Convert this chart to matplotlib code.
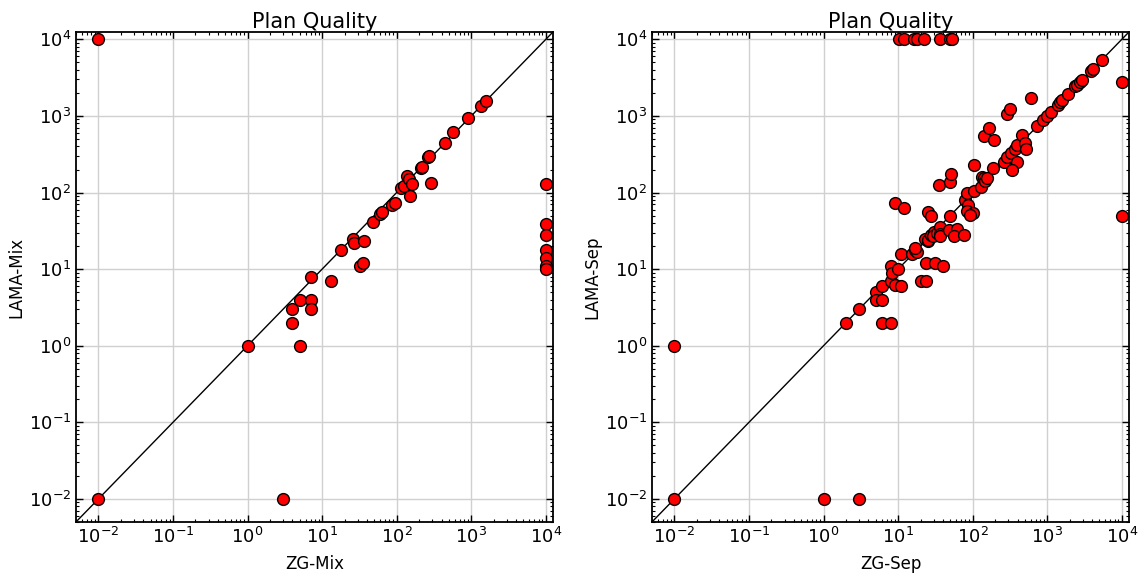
import numpy as np
import matplotlib
matplotlib.use("Agg")
import matplotlib.pyplot as plt

# ZG vs LAMA plan quality, mixed setting
mix_zg = [0.01, 0.01, 1, 3, 4, 4, 5, 5, 7, 7, 7, 13, 18, 26, 27, 37, 32, 35,
          48, 60, 63, 86, 95, 113, 125, 136, 146, 160, 150, 210, 218, 265, 275,
          285, 445, 570, 900, 1340, 1580,
          1e4, 1e4, 1e4, 1e4, 1e4, 1e4, 1e4]
mix_lama = [1e4, 0.01, 1, 0.01, 2, 3, 4, 1, 4, 3, 8, 7, 18, 25, 22, 23, 11, 12,
            41, 53, 55, 69, 73, 114, 123, 167, 151, 131, 89, 208, 216, 290, 297,
            133, 450, 620, 930, 1350, 1580,
            130, 39, 28, 18, 14, 11, 10]

# ZG vs LAMA plan quality, separate setting
sep_zg = [10.3, 12, 16.5, 18, 22.5, 37, 50, 53,
          1e4, 1e4,
          0.01, 0.01, 1, 3,
          2, 3, 5, 5, 6, 6, 6, 8, 8, 8, 8.4, 10, 9, 11, 11, 15.5, 17, 18, 17,
          20, 24, 24, 31, 40, 23, 25, 25, 28, 30, 29, 33, 37, 37, 37, 48, 61,
          57, 76, 9, 12, 25, 28, 49, 35, 49, 51, 80, 86, 83, 102, 92, 85, 104,
          104, 128, 134, 142, 145, 155, 142, 167, 193, 185, 263, 292, 323, 370,
          398, 455, 500, 514, 390, 340, 285, 317, 610, 720, 890, 1000, 1120,
          1380, 1500, 1600, 1900, 2380, 2500, 2720, 2950, 3900, 4100, 5400]
sep_lama = [1e4, 1e4, 1e4, 1e4, 1e4, 1e4, 1e4, 1e4,
            2800, 50,
            1, 0.01, 0.01, 0.01,
            2, 3, 5, 4, 4, 6, 2, 2, 7, 11, 9, 10, 6.2, 6, 16, 16, 18, 17, 19,
            7, 7, 12, 12, 11, 25, 23, 24, 28, 31, 27, 30, 35, 29, 27, 32, 33,
            27, 28, 73, 63, 55, 49, 49, 126, 137, 174, 80, 69, 57, 54, 51, 98, 105,
            230, 120, 162, 155, 140, 155, 540, 700, 490, 210, 254, 295, 327, 368,
            419, 566, 440, 368, 254, 198, 1050, 1220, 1700, 740, 890, 990, 1130,
            1380, 1500, 1600, 1950, 2450, 2550, 2800, 2950, 3850, 4100, 5400]

lo, hi = 0.005, 12500

fig = plt.figure(figsize=(11.39, 5.76), dpi=100)
ax1 = fig.add_axes([0.0667, 0.0938, 0.4188, 0.8507])
ax2 = fig.add_axes([0.5724, 0.0938, 0.4188, 0.8507])

for ax, xs, ys, xl, yl in [(ax1, mix_zg, mix_lama, "ZG-Mix", "LAMA-Mix"),
                           (ax2, sep_zg, sep_lama, "ZG-Sep", "LAMA-Sep")]:
    ax.set_xscale("log")
    ax.set_yscale("log")
    ax.plot([lo, hi], [lo, hi], color="black", lw=1, zorder=2)
    ax.plot(xs, ys, "o", mfc="red", mec="black", ms=8.5, mew=1, zorder=3)
    ax.set_xlim(lo, hi)
    ax.set_ylim(lo, hi)
    ax.set_xticks([1e-2, 1e-1, 1, 10, 100, 1e3, 1e4])
    ax.set_yticks([1e-2, 1e-1, 1, 10, 100, 1e3, 1e4])
    ax.grid(True, which="major", color="#d0d0d0", lw=1, zorder=0)
    ax.set_axisbelow(True)
    ax.tick_params(which="both", direction="in", top=True, right=True,
                   labelsize=13)
    ax.tick_params(which="major", length=5, width=1)
    ax.tick_params(which="minor", length=2.5, width=0.8)
    for s in ax.spines.values():
        s.set_linewidth(1.3)
    ax.set_title("Plan Quality", fontsize=15, pad=2)
    ax.set_xlabel(xl, fontsize=12, labelpad=6)
    ax.set_ylabel(yl, fontsize=12, labelpad=2)

fig.savefig("out.png", dpi=100)
